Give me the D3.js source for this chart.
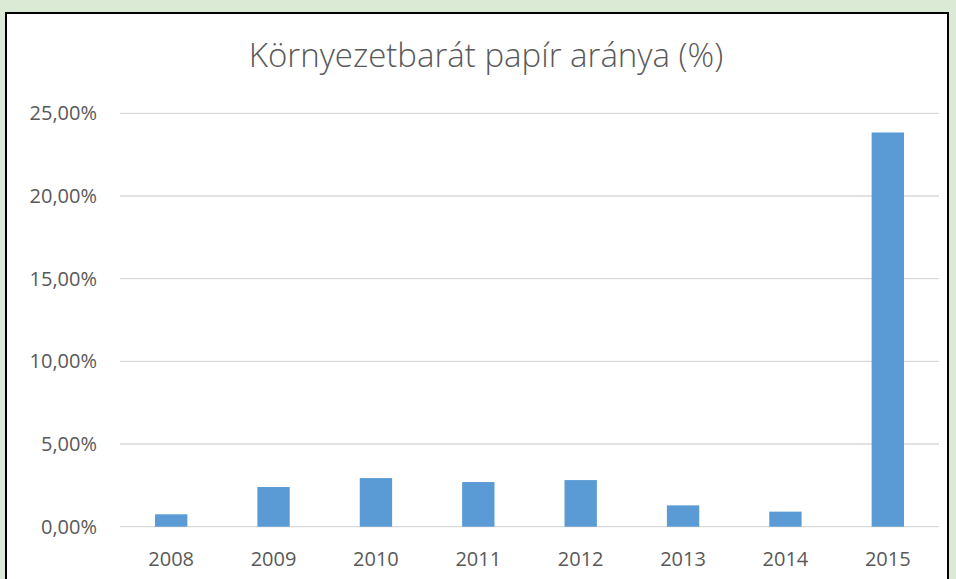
<!DOCTYPE html>
<html>
<head>
<meta charset="utf-8">
<script src="https://cdn.jsdelivr.net/npm/d3@7"></script>
<style>
body { margin: 0; background: #dbead5; }
</style>
</head>
<body>
<div id="chart"></div>
<script>
const years = ["2008", "2009", "2010", "2011", "2012", "2013", "2014", "2015"];
const values = [0.75, 2.40, 2.94, 2.70, 2.82, 1.29, 0.91, 23.84];
const yTicks = [0, 5, 10, 15, 20, 25];
const title = "Környezetbarát papír aránya (%)";

const width = 956,
height = 579,
margin = { top: 113.3, bottom: 52.3, left: 120, right: 17 };

const data = years.map((y, i) => ({ year: y, value: values[i] }));

const svg = d3.select("#chart")
.append("svg")
.attr("width", width)
.attr("height", height);

svg.append("rect")
.attr("width", width)
.attr("height", height)
.attr("fill", "#dbead5");

// chart frame
svg.append("rect")
.attr("x", 6)
.attr("y", 13)
.attr("width", 942)
.attr("height", height + 20)
.attr("fill", "#ffffff")
.attr("stroke", "#000000")
.attr("stroke-width", 2);

const xScale = d3.scaleBand()
.domain(years)
.range([margin.left, width - margin.right])
.padding(0);

const yScale = d3.scaleLinear()
.domain([0, 25])
.range([height - margin.bottom, margin.top]);

const barWidth = xScale.bandwidth() * 0.316;

// gridlines
svg.append("g")
.selectAll("line")
.data(yTicks)
.join("line")
.attr("x1", margin.left)
.attr("x2", width - margin.right)
.attr("y1", d => yScale(d))
.attr("y2", d => yScale(d))
.attr("stroke", "#d9d9d9")
.attr("stroke-width", 1.3);

const yAxis = d3.axisLeft(yScale)
.tickValues(yTicks)
.tickSize(0)
.tickPadding(23)
.tickFormat(d => d3.format(".2f")(d).replace(".", ",") + "%");

svg.append("g")
.attr("class", "y-axis")
.attr("transform", `translate(${margin.left},0)`)
.call(yAxis)
.call(g => g.select(".domain").remove())
.selectAll("text")
.attr("fill", "#595959")
.style("font-family", "'Open Sans', sans-serif")
.style("font-size", "20px");

const xAxis = d3.axisBottom(xScale)
.tickSize(0)
.tickPadding(25);

svg.append("g")
.attr("class", "x-axis")
.attr("transform", `translate(0,${height - margin.bottom})`)
.call(xAxis)
.call(g => g.select(".domain").remove())
.selectAll("text")
.attr("fill", "#595959")
.style("font-family", "'Open Sans', sans-serif")
.style("font-size", "20px");

svg.append("g")
.selectAll("rect")
.data(data)
.join("rect")
.attr("class", "bar")
.attr("x", d => xScale(d.year) + (xScale.bandwidth() - barWidth) / 2)
.attr("width", barWidth)
.attr("y", d => yScale(d.value))
.attr("height", d => yScale(0) - yScale(d.value))
.attr("fill", "#5b9bd5");

svg.append("text")
.attr("x", 486)
.attr("y", 67)
.attr("text-anchor", "middle")
.attr("fill", "#595959")
.style("font-family", "'Open Sans', sans-serif")
.style("font-weight", 300)
.style("font-size", "33px")
.text(title);
</script>
</body>
</html>
